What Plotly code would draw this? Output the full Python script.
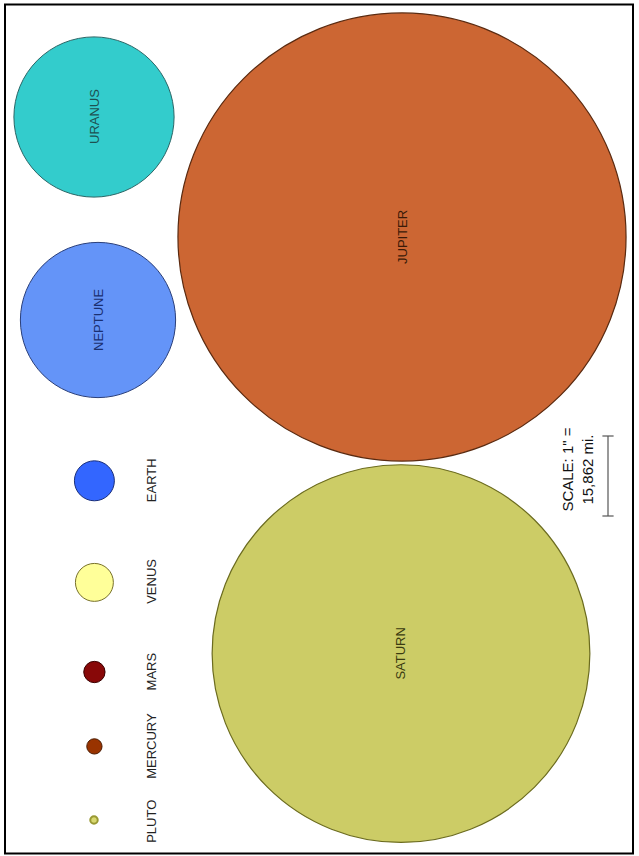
import plotly.graph_objects as go

# ---- data ----
PLANETS = ["URANUS", "NEPTUNE", "JUPITER", "SATURN", "EARTH", "VENUS", "MARS", "MERCURY", "PLUTO"]
DIAMETER_MI = [31763, 30775, 88846, 74898, 7926, 7521, 4222, 3032, 1485]
MILES_PER_INCH = 15862
SCALE_LINES = ['SCALE: 1" =', '15,862 mi.']

# ---- layout (page units: inches, 80 px per inch) ----
PX_PER_IN = 80.0
W, H = 639, 856
CENTER_X = [1.175, 1.225, 5.025, 5.0125, 1.18, 1.18, 1.18, 1.18, 1.175]
CENTER_Y = [1.4625, 4.0, 2.9625, 8.17, 6.01, 7.28, 8.40, 9.33, 10.25]
LABEL_INSIDE = [True, True, True, True, False, False, False, False, False]
LABEL_OUT_X = 1.89
LABEL_OUT_Y = [None, None, None, None, 6.0, 7.27, 8.39, 9.32, 10.27]

FILL = ["#33CCCC", "#6494F8", "#CC6633", "#CCCC66", "#3366FF", "#FFFF99", "#880808", "#993300", "#D8D870"]
EDGE = ["#2a6666", "#2a3f7a", "#5a2a10", "#6b6b1f", "#1a2f7a", "#77702a", "#3a0000", "#4a1a00", "#999933"]
EDGE_W = [1, 1, 1.2, 1.2, 1, 1, 1, 1, 2]
TEXT_IN = ["#1e5050", "#1a2f70", "#3a1a08", "#3a3a10"]
FONT = "Liberation Sans, Arial, sans-serif"

fig = go.Figure()

shapes = []
annotations = []
for i, name in enumerate(PLANETS):
    r = DIAMETER_MI[i] / MILES_PER_INCH / 2.0
    cx, cy = CENTER_X[i], CENTER_Y[i]
    shapes.append(dict(type="circle", xref="x", yref="y",
                       x0=cx - r, x1=cx + r, y0=cy - r, y1=cy + r,
                       fillcolor=FILL[i], line=dict(color=EDGE[i], width=EDGE_W[i]),
                       layer="above"))
    if LABEL_INSIDE[i]:
        annotations.append(dict(x=cx, y=cy, xref="x", yref="y", text=name,
                                showarrow=False, textangle=-90,
                                font=dict(family=FONT, size=13, color=TEXT_IN[i])))
    else:
        annotations.append(dict(x=LABEL_OUT_X, y=LABEL_OUT_Y[i], xref="x", yref="y", text=name,
                                showarrow=False, textangle=-90,
                                font=dict(family=FONT, size=13, color="#222222")))

# scale bar: exactly one inch long
bar_x = 7.6
bar_y0 = 5.45
bar_y1 = bar_y0 + MILES_PER_INCH / MILES_PER_INCH
tick = 0.07
fig.add_trace(go.Scatter(x=[bar_x - tick, bar_x + tick, None, bar_x, bar_x, None, bar_x - tick, bar_x + tick],
                         y=[bar_y0, bar_y0, None, bar_y0, bar_y1, None, bar_y1, bar_y1],
                         mode="lines", line=dict(color="#555555", width=1.2),
                         hoverinfo="skip", showlegend=False))

annotations.append(dict(x=7.225, y=5.87, xref="x", yref="y",
                        text="<br>".join(SCALE_LINES), showarrow=False, textangle=-90,
                        align="center",
                        font=dict(family=FONT, size=15, color="#111111")))

# frame
shapes.append(dict(type="rect", xref="x", yref="y",
                   x0=5 / PX_PER_IN, x1=633 / PX_PER_IN, y0=4.5 / PX_PER_IN, y1=853.5 / PX_PER_IN,
                   line=dict(color="#000000", width=2), fillcolor="rgba(0,0,0,0)", layer="above"))

fig.update_layout(
    width=W, height=H, autosize=False,
    margin=dict(l=0, r=0, t=0, b=0, pad=0),
    paper_bgcolor="white", plot_bgcolor="white",
    shapes=shapes, annotations=annotations,
    xaxis=dict(range=[0, W / PX_PER_IN], visible=False, showgrid=False,
               zeroline=False, fixedrange=True),
    yaxis=dict(range=[H / PX_PER_IN, 0], visible=False, showgrid=False,
               zeroline=False, fixedrange=True),
    showlegend=False,
)

fig.write_html("out.html",
               config={"displayModeBar": False, "staticPlot": True},
               post_script="document.body.style.margin='0';document.body.style.overflow='hidden';")
